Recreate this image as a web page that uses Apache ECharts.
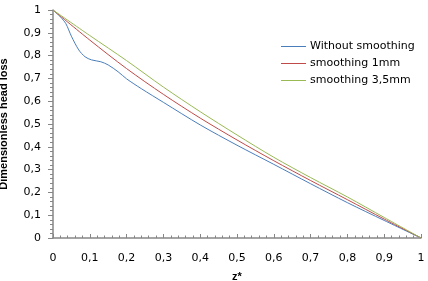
<!DOCTYPE html>
<html>
<head>
<meta charset="utf-8">
<script src="https://cdn.jsdelivr.net/npm/echarts@6/dist/echarts.min.js"></script>
<style>
  html, body { margin: 0; padding: 0; background: #fff; }
  #chart { width: 428px; height: 281px; }
</style>
</head>
<body>
<div id="chart"></div>
<script>
const seriesNames = ['Without smoothing', 'smoothing 1mm', 'smoothing 3,5mm']

const blueX = [0, 0.02, 0.035, 0.05, 0.07, 0.087, 0.105, 0.13, 0.15, 0.177, 0.2, 0.24, 0.3, 0.4, 0.5, 0.6, 0.7, 0.8, 0.9, 1]
const blueY = [1, 0.97, 0.94, 0.885, 0.825, 0.795, 0.781, 0.773, 0.759, 0.729, 0.698, 0.655, 0.595, 0.496, 0.407, 0.323, 0.238, 0.155, 0.077, 0]

const redX = [0, 0.1, 0.2, 0.3, 0.4, 0.5, 0.6, 0.7, 0.8, 0.9, 1]
const redY = [1, 0.868, 0.743, 0.63, 0.526, 0.43, 0.339, 0.252, 0.168, 0.083, 0]

const greenX = [0, 0.1, 0.2, 0.3, 0.4, 0.5, 0.6, 0.7, 0.8, 0.9, 1]
const greenY = [1, 0.888, 0.778, 0.662, 0.554, 0.452, 0.354, 0.265, 0.18, 0.09, 0]

function pairs (xs, ys) {
  return xs.map((x, i) => [x, ys[i]])
}

function fmt (v) {
  return String(Math.round(v * 10) / 10).replace('.', ',')
}

const axisGray = '#868686'
const labelFont = { color: '#000', fontFamily: 'DejaVu Sans', fontSize: 11 }

let myChart = echarts.init(document.getElementById('chart'))
myChart.setOption({
  animation: false,
  grid: { left: 53, right: 7, top: 10, bottom: 43, containLabel: false, outerBoundsMode: 'none' },
  legend: {
    data: seriesNames,
    orient: 'vertical',
    left: 281,
    top: 40,
    padding: 0,
    icon: 'rect',
    itemWidth: 25,
    itemHeight: 1,
    itemGap: 4,
    textStyle: { color: '#000', fontFamily: 'DejaVu Sans', fontSize: 11, lineHeight: 13, padding: [0, 0, 0, -1] }
  },
  xAxis: {
    type: 'value',
    min: 0,
    max: 1,
    interval: 0.1,
    name: 'z*',
    nameLocation: 'middle',
    nameGap: 33,
    nameTextStyle: { color: '#000', fontFamily: 'Liberation Sans', fontWeight: 'bold', fontSize: 11 },
    splitLine: { show: false },
    axisLine: { lineStyle: { color: axisGray, width: 1.5 } },
    axisTick: { inside: true, length: 4, lineStyle: { color: axisGray } },
    minorTick: { show: true, splitNumber: 5, length: 2.5, lineStyle: { color: axisGray } },
    axisLabel: Object.assign({ margin: 15, formatter: fmt }, labelFont)
  },
  yAxis: {
    type: 'value',
    min: 0,
    max: 1,
    interval: 0.1,
    name: 'Dimensionless head loss',
    nameLocation: 'middle',
    nameGap: 44,
    nameTextStyle: { color: '#000', fontFamily: 'Liberation Sans', fontWeight: 'bold', fontSize: 11 },
    splitLine: { show: false },
    axisLine: { show: true, lineStyle: { color: axisGray, width: 1.5 } },
    axisTick: { show: true, length: 5, lineStyle: { color: axisGray } },
    minorTick: { show: true, splitNumber: 5, length: 3, lineStyle: { color: axisGray } },
    axisLabel: Object.assign({ margin: 12, formatter: fmt }, labelFont)
  },
  series: [
    {
      name: seriesNames[0],
      type: 'line',
      symbol: 'none',
      smooth: 0.3,
      data: pairs(blueX, blueY),
      itemStyle: { color: '#4a7ebb' },
      lineStyle: { color: '#4a7ebb', width: 1 }
    },
    {
      name: seriesNames[1],
      type: 'line',
      symbol: 'none',
      smooth: 0.3,
      data: pairs(redX, redY),
      itemStyle: { color: '#be4b48' },
      lineStyle: { color: '#be4b48', width: 1 }
    },
    {
      name: seriesNames[2],
      type: 'line',
      symbol: 'none',
      smooth: 0.3,
      data: pairs(greenX, greenY),
      itemStyle: { color: '#98b954' },
      lineStyle: { color: '#98b954', width: 1 }
    }
  ]
})
</script>
</body>
</html>
